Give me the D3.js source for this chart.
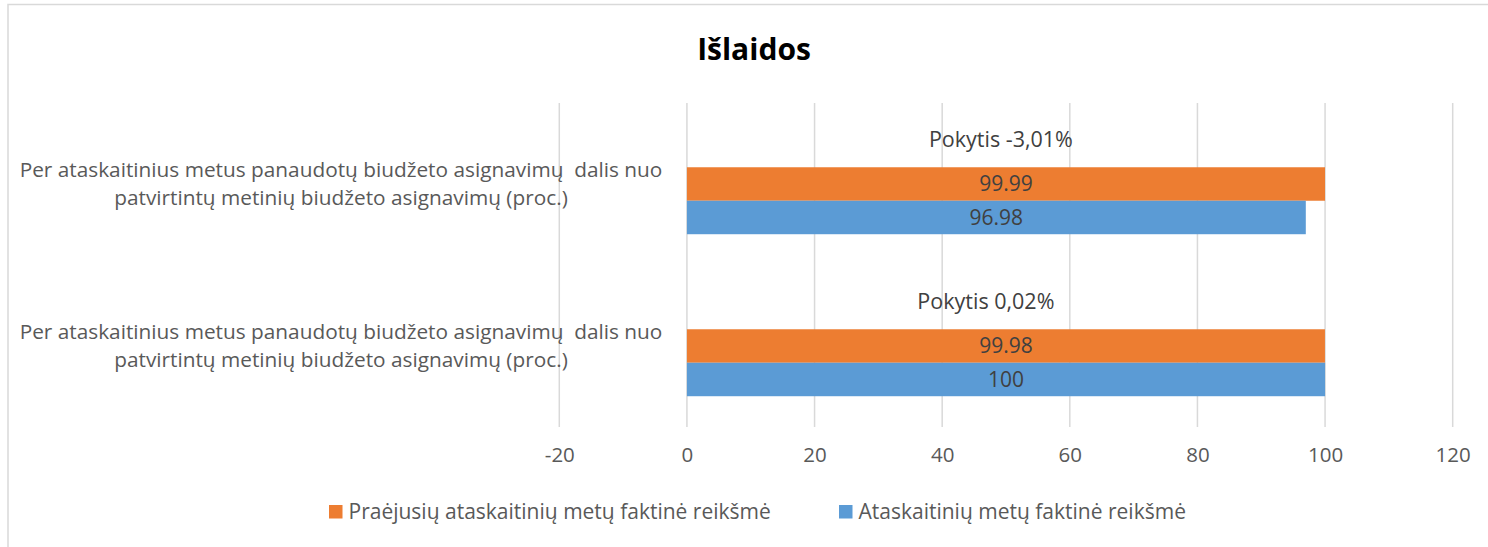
<!DOCTYPE html>
<html>
<head>
<meta charset="utf-8">
<script src="https://cdn.jsdelivr.net/npm/d3@7"></script>
<style>
  body { margin: 0; background: #fff; }
  text { font-family: "Open Sans", sans-serif; }
</style>
</head>
<body>
<script>
// chart data, top category first
var categoryLines = [
  ["Per ataskaitinius metus panaudotų biudžeto asignavimų  dalis nuo", "patvirtintų metinių biudžeto asignavimų (proc.)"],
  ["Per ataskaitinius metus panaudotų biudžeto asignavimų  dalis nuo", "patvirtintų metinių biudžeto asignavimų (proc.)"]
];
var seriesNames = ["Praėjusių ataskaitinių metų faktinė reikšmė", "Ataskaitinių metų faktinė reikšmė"];
var prevValues = [99.99, 99.98];
var currValues = [96.98, 100];
// invisible helper series that carries the "Pokytis" labels
var pokytisValues = [98.4, 93.7];
var pokytisLabels = ["Pokytis -3,01%", "Pokytis 0,02%"];
var xTicks = [-20, 0, 20, 40, 60, 80, 100, 120];

var width = 1488, height = 547;
var colors = {prev: "#ED7D31", curr: "#5B9BD5"};

var svg = d3.select("body").append("svg")
    .attr("width", width)
    .attr("height", height);

// chart area border (clipped by the picture on the right / bottom)
svg.append("rect")
    .attr("x", 8).attr("y", 4.5)
    .attr("width", 1500).attr("height", 560)
    .attr("fill", "none")
    .attr("stroke", "#D9D9D9")
    .attr("stroke-width", 1.5);

svg.append("text")
    .attr("x", 754).attr("y", 60)
    .attr("text-anchor", "middle")
    .attr("font-size", 30)
    .attr("font-weight", "bold")
    .attr("fill", "#000")
    .text("Išlaidos");

var x = d3.scaleLinear().domain([-20, 120]).range([559.3, 1452.7]);
var y = d3.scaleBand()
    .domain(d3.range(categoryLines.length))
    .range([103, 427])
    .paddingInner(0.38)
    .paddingOuter(0.19);
var ySub = d3.scaleBand()
    .domain(["pokytis", "prev", "curr"])
    .range([0, y.bandwidth()]);

// gridlines
svg.append("g")
  .selectAll("line")
  .data(xTicks)
  .join("line")
    .attr("x1", d => x(d)).attr("x2", d => x(d))
    .attr("y1", 103).attr("y2", 427)
    .attr("stroke", "#D9D9D9")
    .attr("stroke-width", 1.5);

// x axis labels
var xAxis = svg.append("g")
    .attr("transform", "translate(0,427)")
    .call(d3.axisBottom(x).tickValues(xTicks).tickSize(0).tickPadding(20).tickFormat(d => String(d)));
xAxis.select(".domain").remove();
xAxis.selectAll("text")
    .attr("font-family", "'Open Sans', sans-serif")
    .attr("font-size", 20.5)
    .attr("fill", "#595959");

// category labels, two lines each
categoryLines.forEach(function(lines, i) {
  var cy = y(i) + y.bandwidth() / 2;
  svg.append("text")
      .attr("text-anchor", "middle")
      .attr("font-size", 20.8)
      .attr("fill", "#595959")
      .style("white-space", "pre")
    .selectAll("tspan")
    .data(lines)
    .join("tspan")
      .attr("x", 341)
      .attr("y", (d, j) => cy + (j === 0 ? -14 : 14))
      .attr("dy", "0.35em")
      .text(d => d);
});

// bars
var rows = d3.range(categoryLines.length).map(i => ({
  i: i, prev: prevValues[i], curr: currValues[i],
  pokytis: pokytisValues[i], label: pokytisLabels[i]
}));

var g = svg.append("g");
["prev", "curr"].forEach(function(key) {
  g.selectAll(".bar-" + key)
    .data(rows)
    .join("rect")
      .attr("class", "bar-" + key)
      .attr("x", x(0))
      .attr("y", d => y(d.i) + ySub(key))
      .attr("width", d => x(d[key]) - x(0))
      .attr("height", ySub.bandwidth())
      .attr("fill", colors[key]);

  g.selectAll(".lbl-" + key)
    .data(rows)
    .join("text")
      .attr("class", "lbl-" + key)
      .attr("x", d => x(d[key] / 2))
      .attr("y", d => y(d.i) + ySub(key) + ySub.bandwidth() / 2)
      .attr("dy", "0.35em")
      .attr("text-anchor", "middle")
      .attr("font-size", 21)
      .attr("fill", "#404040")
      .text(d => d[key]);
});

// Pokytis labels on the invisible series
g.selectAll(".lbl-pokytis")
  .data(rows)
  .join("text")
    .attr("class", "lbl-pokytis")
    .attr("x", d => x(d.pokytis / 2))
    .attr("y", d => y(d.i) + ySub("pokytis") + 6)
    .attr("dy", "0.35em")
    .attr("text-anchor", "middle")
    .attr("font-size", 21.5)
    .attr("fill", "#404040")
    .text(d => d.label);

// legend
var legendX = [329, 839];
var legend = svg.append("g")
  .selectAll("g")
  .data(seriesNames)
  .join("g")
    .attr("transform", (d, i) => "translate(" + legendX[i] + ",505)");
legend.append("rect")
    .attr("width", 13.5).attr("height", 13.5)
    .attr("fill", (d, i) => i === 0 ? colors.prev : colors.curr);
legend.append("text")
    .attr("x", 19.5).attr("y", 7)
    .attr("dy", "0.35em")
    .attr("font-size", 21)
    .attr("fill", "#595959")
    .text(d => d);
</script>
</body>
</html>
